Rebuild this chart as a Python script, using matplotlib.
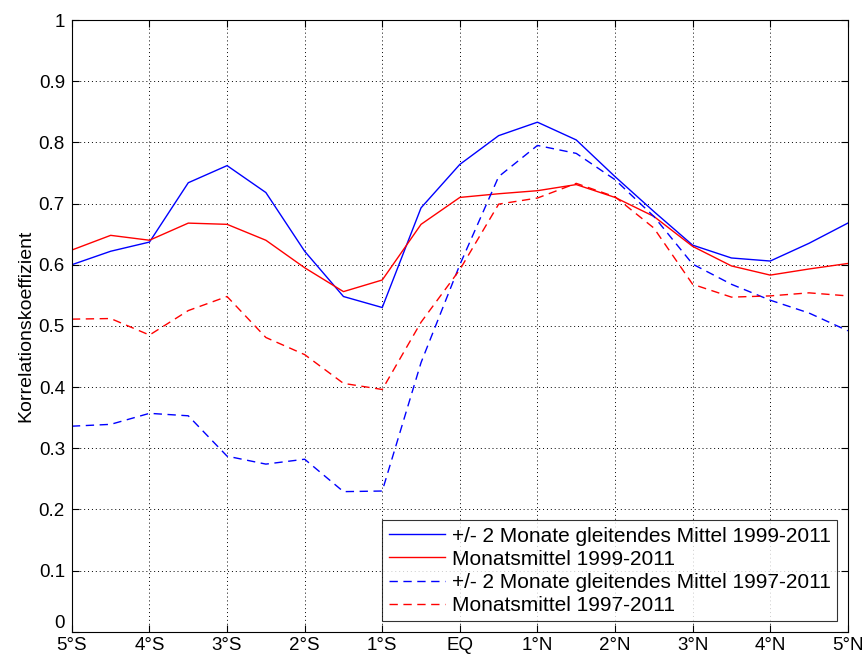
import matplotlib
matplotlib.use("Agg")
import matplotlib.pyplot as plt
import numpy as np

plt.rcParams['font.family'] = ['Liberation Sans', 'DejaVu Sans']

lat = np.arange(-5, 5.01, 0.5)
tick_pos = np.arange(-5, 6, 1)
tick_labels = ['5°S', '4°S', '3°S', '2°S', '1°S', 'EQ', '1°N', '2°N', '3°N', '4°N', '5°N']

gleit_99 = [0.600, 0.622, 0.637, 0.734, 0.762, 0.718, 0.622, 0.548, 0.530, 0.693, 0.764,
            0.811, 0.833, 0.804, 0.744, 0.687, 0.632, 0.611, 0.606, 0.635, 0.668]
monat_99 = [0.624, 0.648, 0.640, 0.668, 0.666, 0.640, 0.595, 0.556, 0.575, 0.666, 0.710,
            0.716, 0.721, 0.731, 0.710, 0.679, 0.630, 0.598, 0.583, 0.593, 0.602]
gleit_97 = [0.336, 0.339, 0.357, 0.353, 0.287, 0.274, 0.282, 0.229, 0.230, 0.440, 0.600,
            0.744, 0.795, 0.782, 0.739, 0.679, 0.601, 0.568, 0.542, 0.521, 0.492]
monat_97 = [0.511, 0.512, 0.485, 0.525, 0.548, 0.481, 0.453, 0.406, 0.396, 0.506, 0.592,
            0.699, 0.709, 0.733, 0.711, 0.660, 0.568, 0.547, 0.549, 0.554, 0.549]

fig = plt.figure(figsize=(8.66, 6.57), dpi=100)
ax = fig.add_axes([0.083, 0.0385, 0.896, 0.931])

ax.plot(lat, gleit_99, color='#0000ff', lw=1, label='+/- 2 Monate gleitendes Mittel 1999-2011')
ax.plot(lat, monat_99, color='#ff0000', lw=1, label='Monatsmittel 1999-2011')
ax.plot(lat, gleit_97, color='#0000ff', lw=1, ls=(0, (6, 4)), label='+/- 2 Monate gleitendes Mittel 1997-2011')
ax.plot(lat, monat_97, color='#ff0000', lw=1, ls=(0, (6, 4)), label='Monatsmittel 1997-2011')

ax.set_xlim(-5, 5)
ax.set_ylim(0, 1)
ax.set_xticks(tick_pos)
ax.set_xticklabels(tick_labels)
ax.set_yticks(np.arange(0, 1.01, 0.1))
ax.set_yticklabels(['0', '0.1', '0.2', '0.3', '0.4', '0.5', '0.6', '0.7', '0.8', '0.9', '1'])
ax.tick_params(direction='in', top=True, right=True, labelsize=13.5, length=5)
ax.tick_params(axis='x', pad=4)
ax.tick_params(axis='y', pad=5)
# lift the zero label off the x labels
ax.get_yticklabels()[0].set_verticalalignment('bottom')
ax.grid(True, ls=(0, (1, 3)), color='black', lw=0.7)
ax.set_ylabel('Korrelationskoeffizient', fontsize=14, labelpad=3)

leg = ax.legend(loc='lower right', fontsize=15, frameon=True, fancybox=False,
                edgecolor='black', handlelength=2.7, borderpad=0.3, labelspacing=0.2,
                handletextpad=0.35, borderaxespad=0.5)
leg.get_frame().set_linewidth(0.8)

fig.savefig('out.png', dpi=100)
